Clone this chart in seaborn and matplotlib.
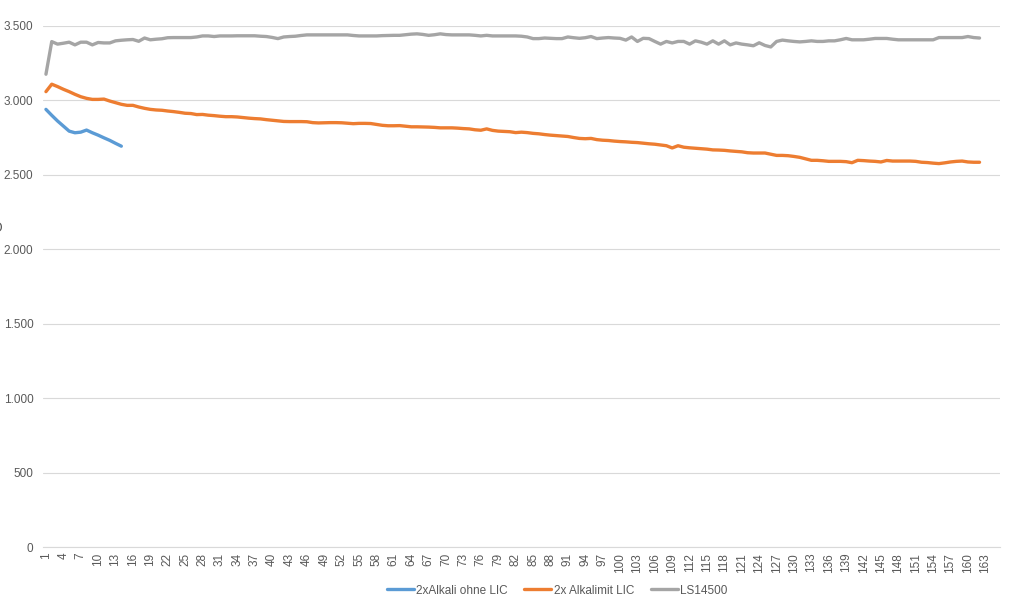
import numpy as np
import pandas as pd
import matplotlib
matplotlib.use("Agg")
import matplotlib.pyplot as plt
import seaborn as sns
from matplotlib.ticker import FuncFormatter


alkali_ohne_lic = [2939, 2899, 2861, 2827, 2793, 2782, 2786, 2800, 2782, 2766,
                   2748, 2731, 2711, 2692]

alkalimit_lic = [3058, 3108, 3092, 3074, 3058, 3040, 3024, 3013, 3006, 3006,
                 3008, 2995, 2984, 2973, 2966, 2966, 2955, 2946, 2939, 2935,
                 2933, 2928, 2924, 2919, 2913, 2911, 2904, 2905, 2900, 2897,
                 2893, 2890, 2890, 2888, 2884, 2880, 2877, 2875, 2870, 2866,
                 2862, 2858, 2857, 2857, 2857, 2856, 2850, 2848, 2849, 2850,
                 2850, 2849, 2846, 2843, 2845, 2845, 2844, 2838, 2832, 2829,
                 2829, 2830, 2826, 2822, 2822, 2821, 2820, 2818, 2815, 2815,
                 2815, 2813, 2810, 2808, 2802, 2799, 2808, 2798, 2793, 2791,
                 2789, 2783, 2786, 2783, 2778, 2775, 2770, 2766, 2763, 2760,
                 2757, 2750, 2744, 2742, 2744, 2736, 2732, 2730, 2726, 2723,
                 2721, 2718, 2716, 2712, 2708, 2705, 2700, 2695, 2680, 2695,
                 2685, 2681, 2678, 2675, 2672, 2667, 2666, 2664, 2660, 2657,
                 2654, 2648, 2646, 2646, 2646, 2638, 2630, 2630, 2628, 2623,
                 2617, 2607, 2597, 2597, 2594, 2590, 2590, 2590, 2588, 2581,
                 2597, 2595, 2592, 2590, 2586, 2596, 2592, 2592, 2592, 2592,
                 2590, 2584, 2582, 2578, 2575, 2580, 2586, 2590, 2592, 2586,
                 2584, 2584]

ls14500 = [3175, 3394, 3377, 3383, 3390, 3372, 3390, 3390, 3372, 3388,
           3385, 3385, 3399, 3403, 3406, 3408, 3396, 3418, 3406, 3410,
           3413, 3420, 3421, 3421, 3421, 3421, 3425, 3432, 3432, 3428,
           3432, 3432, 3432, 3433, 3433, 3433, 3433, 3430, 3428, 3422,
           3414, 3425, 3428, 3430, 3435, 3439, 3439, 3439, 3439, 3439,
           3439, 3439, 3439, 3435, 3432, 3432, 3432, 3432, 3434, 3435,
           3436, 3436, 3440, 3444, 3446, 3442, 3436, 3440, 3446, 3441,
           3439, 3439, 3439, 3439, 3436, 3432, 3436, 3432, 3432, 3432,
           3432, 3432, 3430, 3425, 3414, 3414, 3418, 3416, 3414, 3414,
           3425, 3420, 3416, 3420, 3428, 3414, 3418, 3421, 3418, 3416,
           3404, 3425, 3395, 3416, 3414, 3395, 3377, 3395, 3385, 3395,
           3395, 3377, 3399, 3390, 3377, 3399, 3377, 3399, 3372, 3385,
           3377, 3372, 3366, 3386, 3368, 3358, 3395, 3404, 3399, 3395,
           3392, 3395, 3399, 3395, 3395, 3399, 3399, 3406, 3415, 3406,
           3406, 3406, 3410, 3415, 3415, 3415, 3410, 3406, 3406, 3406,
           3406, 3406, 3406, 3406, 3421, 3421, 3421, 3421, 3421, 3428,
           3421, 3418]

series_names = ["2xAlkali ohne LIC", "2x Alkalimit LIC", "LS14500"]
series_colors = ["#5B9BD5", "#ED7D31", "#A5A5A5"]
n_categories = 165
x_tick_labels = [str(i) for i in range(1, n_categories + 1, 3)]
y_ticks = [0, 500, 1000, 1500, 2000, 2500, 3000, 3500]

sns.set_style("white")
plt.rcParams['font.family'] = ['Liberation Sans', 'DejaVu Sans']

fig = plt.figure(figsize=(10.13, 6.0), dpi=100)
ax = fig.add_axes([0.0425, 0.088, 0.9445, 0.869])

for name, values, color in zip(series_names,
                               [alkali_ohne_lic, alkalimit_lic, ls14500],
                               series_colors):
    idx = np.arange(1, len(values) + 1)
    sns.lineplot(x=idx, y=values, ax=ax, color=color, linewidth=2.4,
                 label=name, legend=False)

ax.set_xlim(0.5, n_categories + 0.5)
ax.set_ylim(0, 3500)
ax.set_yticks(y_ticks)
ax.yaxis.set_major_formatter(FuncFormatter(lambda v, p: f"{v:,.0f}".replace(",", ".")))
ax.set_xticks(range(1, n_categories + 1, 3))
ax.set_xticklabels(x_tick_labels, rotation=90, fontsize=8.5, color="#595959")
ax.tick_params(axis="y", labelsize=8.5, colors="#595959", length=0, pad=7)
ax.tick_params(axis="x", length=0, pad=4)
ax.grid(axis="y", color="#D9D9D9", linewidth=0.8)
ax.set_axisbelow(True)
for s in ["top", "right", "left"]:
    ax.spines[s].set_visible(False)
ax.spines["bottom"].set_color("#D9D9D9")
ax.spines["bottom"].set_linewidth(0.8)
ax.set_xlabel("")
ax.set_ylabel("")

# clipped axis title remnant at the left edge
fig.text(-0.003, 0.62, "O", fontsize=10, color="#595959", ha="center", va="center")

handles, labels = ax.get_legend_handles_labels()
fig.legend(handles, labels, loc="lower center", bbox_to_anchor=(0.55, -0.012),
           ncol=3, frameon=False, fontsize=8.5, handlelength=2.3,
           handletextpad=0.2, columnspacing=1.4, labelcolor="#595959")

fig.savefig("out.png", dpi=100)
